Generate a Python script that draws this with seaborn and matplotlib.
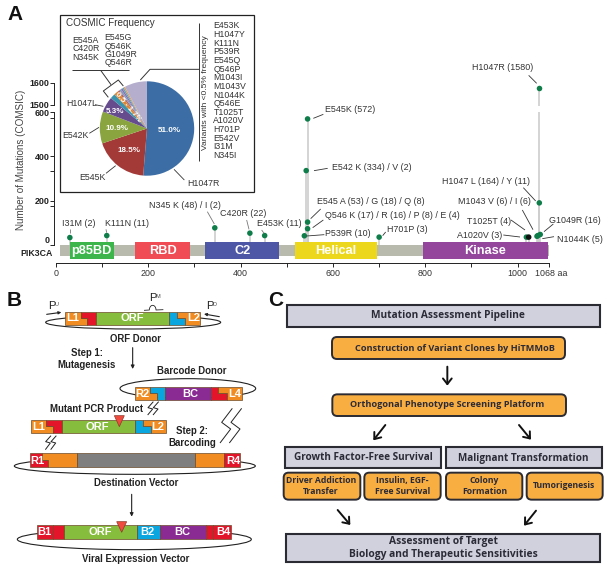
import matplotlib
matplotlib.use("Agg")
import matplotlib.pyplot as plt
from matplotlib.patches import Polygon, Rectangle, Ellipse, FancyBboxPatch
import numpy as np
import pandas as pd
import seaborn as sns

sns.set_theme(style="ticks")
plt.rcParams['font.family'] = ['Liberation Sans', 'DejaVu Sans']

# ---------- data ----------
mut_residue = [30, 110, 344, 420, 452, 538, 545, 545, 542, 545, 700, 1019, 1024, 1042, 1044, 1049, 1047]
mut_height = [33, 42, 77, 53, 42, 41, 73, 103, 336, 570, 35, 35, 35, 39, 42, 47, 190]
mut_kind = ['a'] * 12 + ['b'] + ['a'] * 4
top_residue = [1047]
top_height = [1575]
dom_names = ['p85BD', 'RBD', 'C2', 'Helical', 'Kinase']
dom_start = [30, 172, 323, 518, 795]
dom_end = [125, 291, 484, 695, 1066]
dom_colors = ['#3cb54a', '#ef4c56', '#4d57a5', '#ecd71c', '#93469c']
pie_values = [51.0, 18.5, 10.9, 5.3, 1.7, 1.5, 0.7, 0.6, 0.55, 0.5, 0.5, 7.7]
pie_colors = ['#3c6ea5', '#a33a38', '#8aa53f', '#674c8d', '#3a94ad', '#dc8634',
              '#b9665e', '#7f9cc4', '#8c6bb1', '#5aa5b5', '#d9a066', '#b5aecd']
freq_variants = ['E453K', 'H1047Y', 'K111N', 'P539R', 'E545Q', 'Q546P', 'M1043I', 'M1043V',
                 'N1044K', 'Q546E', 'T1025T', 'A1020V', 'H701P', 'E542V', 'I31M', 'N345I']

W, H = 612, 572
fig = plt.figure(figsize=(W / 100, H / 100), dpi=100, facecolor='white')


def axpx(l, t, r, b, **kw):
    return fig.add_axes([l / W, 1 - b / H, (r - l) / W, (b - t) / H], **kw)


GT = '#333333'
# ---------- panel A main axes ----------
low = axpx(56, 112.3, 549, 263.3, facecolor='none', zorder=1)
up = axpx(56, 82.7, 549, 106, facecolor='none', zorder=1)
low.set_xlim(0, 1068)
up.set_xlim(0, 1068)
low.set_ylim(-83.5, 600)
up.set_ylim(1494, 1600)

low.vlines(mut_residue, 0, mut_height, color='#cdcdcd', lw=1.2, zorder=1)
low.vlines(top_residue, 0, 600, color='#cdcdcd', lw=1.2, zorder=1)
up.vlines(top_residue, 1494, top_height, color='#cdcdcd', lw=1.2, zorder=1)
low.barh([-26], [1068 - 8], left=[8], height=47, color='#b9baae', lw=0, zorder=2)
low.barh([-25] * 5, np.array(dom_end) - np.array(dom_start), left=dom_start, height=80,
         color=dom_colors, lw=0, zorder=3)
for n, a, b in zip(dom_names, dom_start, dom_end):
    low.text((a + b) / 2, -27, n, color='white', fontweight='bold', fontsize=9.2,
             ha='center', va='center', zorder=4)

df = pd.DataFrame({'residue': mut_residue, 'height': mut_height, 'kind': mut_kind})
sns.scatterplot(data=df, x='residue', y='height', hue='kind', hue_order=['b', 'a'],
                palette={'a': '#0f7d4a', 'b': '#111111'}, s=16, linewidth=0,
                legend=False, ax=low, zorder=5, clip_on=False)
sns.scatterplot(x=top_residue, y=top_height, color='#0f7d4a', s=16, linewidth=0, ax=up, zorder=5)

for s in ['top', 'right']:
    low.spines[s].set_visible(False)
    up.spines[s].set_visible(False)
up.spines['bottom'].set_visible(False)
up.set_xticks([])
low.spines['left'].set_position(('outward', 1.3))
up.spines['left'].set_position(('outward', 1.3))
low.spines['left'].set_bounds(0, 600)
up.spines['left'].set_bounds(1500, 1600)
for sp in [low.spines['left'], up.spines['left'], low.spines['bottom']]:
    sp.set_linewidth(0.7)
    sp.set_color('#222222')
low.set_yticks([0, 200, 400, 600])
low.set_yticks([175, 336, 572], minor=True)
up.set_yticks([1500, 1600])
for a in (low, up):
    a.tick_params(axis='y', which='both', length=2.6, width=0.7, pad=0.8, labelsize=6.4, labelcolor='#222222')
    for t in a.get_yticklabels():
        t.set_fontweight('bold')
low.get_yticklabels()[0].set_verticalalignment('bottom')
low.set_xticks([0, 200, 400, 600, 800, 1000])
low.set_xticks([100, 300, 500, 700, 900, 1068], minor=True)
low.tick_params(axis='x', which='both', length=2.6, width=0.7, pad=1.5, labelsize=6.4, labelcolor=GT)
low.set_xlabel('')
low.set_ylabel('')
up.set_ylabel('')
up.set_xlabel('')

# ---------- overlay in pixel coordinates ----------
ov = fig.add_axes([0, 0, 1, 1], facecolor='none', zorder=2)
ov.set_xlim(0, W)
ov.set_ylim(H, 0)
ov.axis('off')


def T(x, y, s, fs=6.4, c=GT, ha='left', va='center', **kw):
    ov.text(x, y, s, fontsize=fs, color=c, ha=ha, va=va, **kw)


def L(pts, lw=0.6, c='#333333', **kw):
    xs, ys = zip(*pts)
    ov.plot(xs, ys, color=c, lw=lw, solid_capstyle='butt', **kw)


def z1(x, y):
    return (x / 3, y / 3)


def z2(x, y):
    return (x / 3 + 290, y / 3)


T(7, 15, 'A', fs=15, c='#111111', fontweight='bold')
T(52.5, 253, 'PIK3CA', fs=6.3, c='#222222', fontweight='bold', ha='right')
T(21.5, 160, 'Number of Mutations (COMSIC)', fs=7.1, c='#444444', rotation=90, ha='center')
T(535, 273, '1068 aa', fs=6.4)

labels1 = [(185, 672, 'I31M (2)'), (314, 672, 'K111N (11)'), (446, 618, 'N345 K (48) / I (2)'),
           (660, 641, 'C420R (22)'), (770, 672, 'E453K (11)')]
for x, y, s in labels1:
    T(*z1(x, y), s)
labels2 = [(106, 330, 'E545K (572)'), (127, 501, 'E542 K (334) / V (2)'),
           (80, 605, 'E545 A (53) / G (18) / Q (8)'), (106, 647, 'Q546 K (17) / R (16) / P (8) / E (4)'),
           (104, 702, 'P539R (10)'), (292, 689, 'H701P (3)'), (545, 204, 'H1047R (1580)'),
           (456, 543, 'H1047 L (164) / Y (11)'), (503, 605, 'M1043 V (6) / I (6)'),
           (531, 665, 'T1025T (4)'), (501, 706, 'A1020V (3)'), (777, 662, 'G1049R (16)'),
           (800, 720, 'N1044K (5)')]
for x, y, s in labels2:
    T(*z2(x, y), s)
lead2 = [(716, 226, 740, 250), (70, 355, 100, 343), (72, 512, 113, 505), (62, 656, 92, 627),
         (68, 683, 100, 660), (50, 708, 103, 704), (278, 707, 287, 696), (700, 563, 737, 603),
         (697, 630, 729, 689), (663, 660, 705, 690), (640, 705, 690, 711), (762, 695, 790, 672),
         (757, 716, 792, 710)]
for a, b, c, d in lead2:
    L([z2(a, b), z2(c, d)])
for a, b, c, d in [(210, 688, 210, 698), (318, 688, 320, 698), (622, 635, 643, 672),
                   (740, 660, 747, 688), (785, 690, 792, 700)]:
    L([z1(a, b), z1(c, d)], c='#777777')

# inset
ov.add_patch(Rectangle((60.3, 15.3), 193.4, 177, fc='white', ec='#222222', lw=0.9, zorder=1.5))
T(65.5, 23, 'COSMIC Frequency', fs=7.1, zorder=3)
for x, y, s in [(218, 121, 'E545A'), (218, 146, 'C420R'), (218, 171, 'N345K'),
                (313, 113, 'E545G'), (313, 139, 'Q546K'), (313, 163, 'G1049R'), (313, 188, 'Q546R')]:
    T(*z1(x, y), s, fs=6.3, zorder=3)
for k in [[(216, 211), (388, 211)], [(302, 211), (333, 254)],
          [(325, 292), (310, 273), (355, 240), (370, 258)],
          [(421, 240), (450, 208), (598, 208)], [(598, 68), (598, 482)]]:
    L([z1(*p) for p in k], lw=0.7, c='#333333', zorder=3)
T(*z1(617, 278), 'Variants with <0.5% frequency', fs=6.1, rotation=90, ha='center', zorder=3)
for i, v in enumerate(freq_variants):
    T(640 / 3, (78 + i * 25.9) / 3, v, fs=6.3, zorder=3)
for x, y, s in [(198, 312, 'H1047L'), (187, 408, 'E542K'), (237, 532, 'E545K'), (563, 552, 'H1047R')]:
    T(*z1(x, y), s, fs=6.3, zorder=3)
for k in [((285, 314), (310, 319)), ((268, 400), (297, 382)), ((318, 520), (347, 497)), ((522, 508), (553, 540))]:
    L([z1(*p) for p in k], zorder=3)

pie = axpx(147 - 50, 128.5 - 50, 147 + 50, 128.5 + 50, zorder=3, facecolor='none')
pie.pie(pie_values, colors=pie_colors, startangle=90, counterclock=False, radius=47.2 / 50,
        wedgeprops={'lw': 0})
pie.set_xlim(-1, 1)
pie.set_ylim(-1, 1)
top = fig.add_axes([0, 0, 1, 1], facecolor='none', zorder=4)
top.set_xlim(0, W)
top.set_ylim(H, 0)
top.axis('off')
for x, y, s, r in [(508, 391, '51.0%', 0), (388, 451, '18.5%', 0), (352, 385, '10.9%', 0),
                   (344, 335, '5.3%', 0), (385, 320, '0.5 - 1.7%', -50)]:
    top.text(x / 3, y / 3, s, color='white', fontweight='bold', fontsize=5.8,
             ha='center', va='center', rotation=r)

# ---------- panel B ----------
EDGE = '#6b4a2a'
OR, RD, GR, BL, PU, GY = '#f08c21', '#e2152b', '#86bd3c', '#0aa6e0', '#8a2a93', '#7f7f80'


def B(x, y):
    return (x / 3, y / 3 + 285)


def poly(pts, fc, ec=EDGE, lw=0.5):
    ov.add_patch(Polygon([B(*p) for p in pts], closed=True, fc=fc, ec=ec, lw=lw, zorder=2))


def rect(x0, x1, y0, y1, fc):
    poly([(x0, y0), (x1, y0), (x1, y1), (x0, y1)], fc)


def step(x0, x1, y0, y1, xa, xb, ca, cb):
    m = (y0 + y1) / 2
    poly([(x0, y0), (xa, y0), (xa, m), (xb, m), (xb, y1), (x0, y1)], ca)
    poly([(xa, y0), (x1, y0), (x1, y1), (xb, y1), (xb, m), (xa, m)], cb)


def ell(x0, x1, y0, y1):
    ov.add_patch(Ellipse(B((x0 + x1) / 2, (y0 + y1) / 2), (x1 - x0) / 3, (y1 - y0) / 3,
                         fc='none', ec='#222222', lw=0.8, zorder=1))


def wt(x, y, s, fs=8):
    T(*B(x, y), s, fs=fs, c='white', ha='center', fontweight='bold', zorder=4)


def blk(x, y, s, fs=6.9, ha='center'):
    T(*B(x, y), s, fs=fs, c='#222222', ha=ha, fontweight='bold', zorder=4)


def arrow(a, b, lw=0.8, ms=5):
    ov.annotate('', xy=B(*b), xytext=B(*a), arrowprops=dict(arrowstyle='-|>', lw=lw, color='#222222',
                                                            mutation_scale=ms, shrinkA=0, shrinkB=0))


T(7, 300, 'B', fs=15, c='#111111', fontweight='bold')
# ORF donor
ell(137, 662, 92, 132)
step(196, 288, 80, 119, 242, 262, OR, RD)
rect(288, 507, 80, 119, GR)
step(507, 600, 80, 119, 532, 554, BL, OR)
wt(218, 100, 'L1'); wt(398, 100, 'ORF'); wt(580, 100, 'L2')
blk(408, 162, 'ORF Donor')
T(*B(145, 64), 'P', fs=8, c='#222222'); T(*B(164, 58), 'U', fs=4, c='#444444')
T(*B(447, 40), 'P', fs=8, c='#222222'); T(*B(465, 34), 'M', fs=4, c='#444444')
T(*B(618, 64), 'P', fs=8, c='#222222'); T(*B(637, 58), 'D', fs=4, c='#444444')
arrow((140, 88), (184, 82), ms=4)
arrow((658, 95), (612, 87), ms=4)
t = np.linspace(0, np.pi, 20)
L([B(432, 76), B(448, 75)] + [B(448 + 10 * (1 - np.cos(a)), 75 - 14 * np.sin(a)) for a in t] + [B(490, 74)],
  lw=0.6, c='#222222')
blk(260, 204, 'Step 1:')
blk(260, 241, 'Mutagenesis')
arrow((398, 188), (398, 252))
# Barcode donor
blk(575, 259, 'Barcode Donor')
ell(360, 767, 281, 340)
step(404, 496, 305, 345, 450, 472, OR, BL)
rect(496, 633, 305, 345, PU)
step(633, 726, 305, 345, 655, 680, RD, OR)
wt(427, 326, 'R2'); wt(570, 326, 'BC'); wt(704, 326, 'L4')
# Mutant PCR
blk(288, 373, 'Mutant PCR Product')
step(92, 185, 404, 443, 138, 158, OR, RD)
rect(185, 405, 404, 443, GR)
step(405, 497, 404, 443, 430, 452, BL, OR)
wt(115, 425, 'L1'); wt(293, 425, 'ORF'); wt(472, 425, 'L2')
poly([(343, 392), (373, 392), (358, 425)], '#ef4b3f', ec='#8c3b2c')
# Zigzags
for pts in [[(460, 350), (444, 368), (458, 372), (443, 390)], [(476, 350), (460, 368), (474, 372), (459, 390)],
            [(153, 452), (137, 470), (151, 474), (136, 494)], [(169, 452), (153, 470), (167, 474), (152, 494)],
            [(697, 370), (665, 412), (692, 432), (660, 474)], [(725, 370), (693, 412), (720, 432), (688, 474)]]:
    L([B(*p) for p in pts], lw=0.7, c='#222222')
blk(577, 437, 'Step 2:')
blk(577, 475, 'Barcoding')
# Destination
ell(43, 766, 518, 568)
step(91, 232, 505, 545, 125, 145, RD, OR)
rect(232, 584, 505, 545, GY)
step(584, 721, 505, 545, 672, 672, OR, RD)
wt(111, 529, 'R1'); wt(701, 529, 'R4')
blk(408, 593, 'Destination Vector')
arrow((395, 628), (395, 695))
# Viral
ell(52, 754, 732, 794)
step(112, 193, 721, 761, 160, 160, RD, RD)
rect(193, 412, 721, 761, GR)
rect(412, 480, 721, 761, BL)
rect(480, 617, 721, 761, PU)
step(617, 693, 721, 761, 640, 640, RD, RD)
wt(134, 742, 'B1'); wt(302, 742, 'ORF'); wt(443, 742, 'B2'); wt(548, 742, 'BC'); wt(671, 742, 'B4')
poly([(350, 710), (380, 710), (365, 742)], '#ef4b3f', ec='#8c3b2c')
blk(408, 821, 'Viral Expression Vector')

# ---------- panel C ----------
CF = ['Open Sans', 'DejaVu Sans']
DK = '#2b2b38'


def C(x, y):
    return (x / 3 + 265, y / 3 + 285)


def gbox(x0, y0, x1, y1):
    a = C(x0, y0); b = C(x1, y1)
    ov.add_patch(Rectangle(a, b[0] - a[0], b[1] - a[1], fc='#d1d1dd', ec='#2b2b33', lw=1.5, zorder=2))


def obox(x0, y0, x1, y1):
    a = C(x0, y0); b = C(x1, y1)
    ov.add_patch(FancyBboxPatch((a[0] + 4, a[1] + 4), b[0] - a[0] - 8, b[1] - a[1] - 8,
                                boxstyle='round,pad=4,rounding_size=5', fc='#f9ae42', ec='#2b2b33',
                                lw=1.4, zorder=2))


def ctext(x, y, s, fs=6.6):
    T(*C(x, y), s, fs=fs, c=DK, ha='center', family=CF, fontweight='bold', zorder=4, linespacing=1.15)


def carrow(a, b):
    ov.annotate('', xy=C(*b), xytext=C(*a), arrowprops=dict(arrowstyle='->,head_length=0.45,head_width=0.35',
                                                            lw=1.4, color='#111111', mutation_scale=9,
                                                            shrinkA=0, shrinkB=0))


T(268, 300, 'C', fs=15, c='#111111', fontweight='bold')
gbox(65, 60, 1005, 125)
ctext(550, 92, 'Mutation Assessment Pipeline', 7.3)
obox(201, 156, 900, 222)
ctext(570, 190, 'Construction of Variant Clones by HiTMMoB', 6.55)
carrow((547, 245), (547, 302))
obox(202, 328, 903, 393)
ctext(545, 359, 'Orthogonal Phenotype Screening Platform', 6.6)
carrow((361, 420), (325, 466))
carrow((762, 420), (798, 464))
gbox(60, 485, 528, 550)
ctext(295, 517, 'Growth Factor-Free Survival', 7.2)
gbox(542, 485, 1010, 550)
ctext(775, 519, 'Malignant Transformation', 7.15)
obox(56, 563, 286, 644)
ctext(168, 603, 'Driver Addiction\nTransfer', 6.2)
obox(298, 563, 527, 644)
ctext(412, 603, 'Insulin, EGF-\nFree Survival', 6.2)
obox(543, 563, 772, 644)
ctext(658, 603, 'Colony\nFormation', 6.2)
obox(785, 563, 1013, 644)
ctext(898, 601, 'Tumorigenesis', 6.2)
carrow((218, 675), (256, 720))
carrow((813, 677), (777, 722))
gbox(63, 748, 1005, 831)
ctext(535, 789, 'Assessment of Target\nBiology and Therapeutic Sensitivities', 7.35)

fig.savefig('out.png', dpi=100, facecolor='white')
